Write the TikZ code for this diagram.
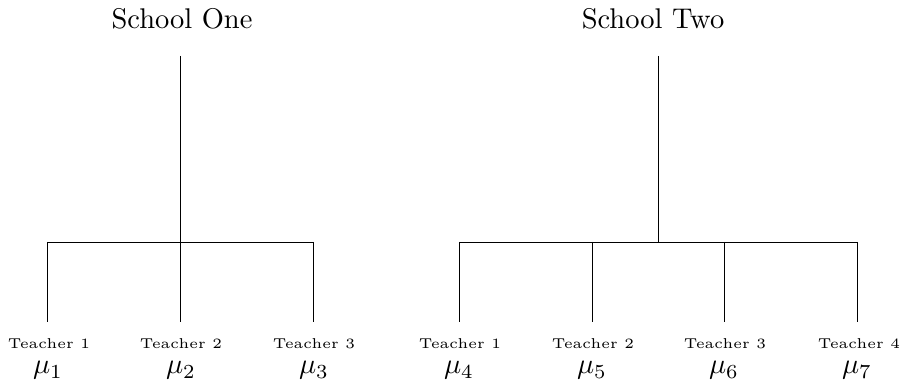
\documentclass[tikz,border=0pt]{standalone}
\usepackage{amsmath}
\usetikzlibrary{positioning}
\tikzset{
  school/.style={font=\normalsize, inner sep=0pt, anchor=base},
  teacher/.style={font=\tiny, inner sep=0pt, anchor=base},
  param/.style={inner sep=0pt, anchor=base},
  branch/.style={line width=0.3pt}
}

\begin{document}
\begin{tikzpicture}[x=0.351pt, y=-0.351pt]
    \useasboundingbox (0,0) rectangle (902,381);

    % School One
    \node[school] (s1) at (182,29) {School One};
    \coordinate (s1top) at (180,56);
    \coordinate (s1mid) at (180,242);
    \coordinate (s1a) at (47,242);
    \coordinate (s1b) at (180,242);
    \coordinate (s1c) at (313,242);
    \coordinate (s1aend) at (47,322);
    \coordinate (s1bend) at (180,322);
    \coordinate (s1cend) at (313,322);
    \draw[branch] (s1top) -- (s1mid);
    \draw[branch] (s1a) -- (s1c);
    \draw[branch] (s1a) -- (s1aend);
    \draw[branch] (s1b) -- (s1bend);
    \draw[branch] (s1c) -- (s1cend);

    % Teachers of school one
    \node[teacher] (t1) at (49,349) {Teacher 1};
    \node[teacher] (t2) at (181,349) {Teacher 2};
    \node[teacher] (t3) at (314,349) {Teacher 3};
    \node[param] (mu1) at (48,374) {$\mu_1$};
    \node[param] (mu2) at (181,374) {$\mu_2$};
    \node[param] (mu3) at (314,374) {$\mu_3$};

    % School Two
    \node[school] (s2) at (653,29) {School Two};
    \coordinate (s2top) at (658,56);
    \coordinate (s2mid) at (658,242);
    \coordinate (s2a) at (459,242);
    \coordinate (s2b) at (592,242);
    \coordinate (s2c) at (724,242);
    \coordinate (s2d) at (857,242);
    \coordinate (s2aend) at (459,322);
    \coordinate (s2bend) at (592,322);
    \coordinate (s2cend) at (724,322);
    \coordinate (s2dend) at (857,322);
    \draw[branch] (s2top) -- (s2mid);
    \draw[branch] (s2a) -- (s2d);
    \draw[branch] (s2a) -- (s2aend);
    \draw[branch] (s2b) -- (s2bend);
    \draw[branch] (s2c) -- (s2cend);
    \draw[branch] (s2d) -- (s2dend);

    % Teachers of school two
    \node[teacher] (t4) at (460,349) {Teacher 1};
    \node[teacher] (t5) at (593,349) {Teacher 2};
    \node[teacher] (t6) at (725,349) {Teacher 3};
    \node[teacher] (t7) at (859,349) {Teacher 4};
    \node[param] (mu4) at (459,374) {$\mu_4$};
    \node[param] (mu5) at (592,374) {$\mu_5$};
    \node[param] (mu6) at (724,374) {$\mu_6$};
    \node[param] (mu7) at (857,374) {$\mu_7$};
\end{tikzpicture}
\end{document}
